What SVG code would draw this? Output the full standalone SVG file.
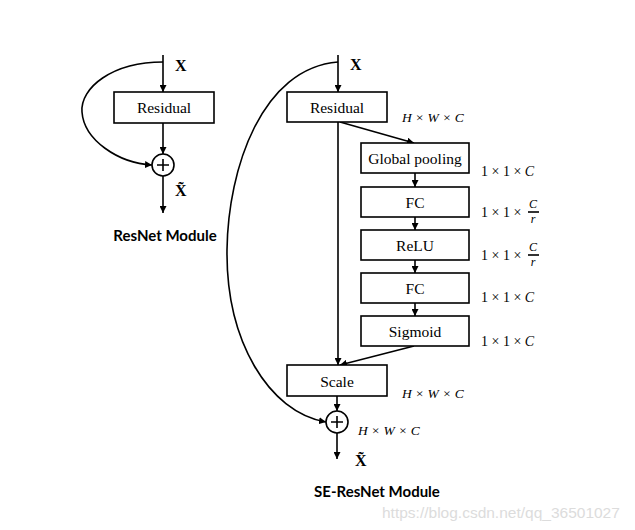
<svg xmlns="http://www.w3.org/2000/svg" width="635" height="530" viewBox="0 0 635 530">
<defs>
<marker id="ah" viewBox="0 0 10 10" refX="10" refY="5" markerWidth="7" markerHeight="7" markerUnits="userSpaceOnUse" orient="auto">
<path d="M0,0 L10,5 L0,10 z" fill="#000"/>
</marker>
<style>
.box{fill:#fff;stroke:#000;stroke-width:1.6}
.ln{fill:none;stroke:#000;stroke-width:1.6}
.arr{fill:none;stroke:#000;stroke-width:1.6;marker-end:url(#ah)}
.lbl{font-family:"Liberation Serif","Times New Roman",serif;font-size:15.5px;fill:#000;text-anchor:middle}
.bx{font-family:"Liberation Serif","Times New Roman",serif;font-size:16px;font-weight:bold;fill:#000}
.dim{font-family:"Liberation Serif","Times New Roman",serif;font-size:13.5px;font-style:italic;fill:#000}
.mth{font-family:"Liberation Serif","Times New Roman",serif;font-size:14px;fill:#000}
.frac{font-family:"Liberation Serif","Times New Roman",serif;font-size:12px;font-style:italic;fill:#000;text-anchor:middle}
.ttl{font-family:Lato,"Liberation Sans",sans-serif;font-size:15px;font-weight:bold;fill:#000;text-anchor:middle}
</style>
</defs>
<rect width="635" height="530" fill="#fff"/>

<g id="connectors">
<!-- left module -->
<line class="arr" x1="163" y1="55" x2="163" y2="92"/>
<line class="arr" x1="163" y1="123" x2="163" y2="154"/>
<line class="arr" x1="163" y1="176" x2="163" y2="213"/>
<path class="arr" d="M163,62 C112,62 80,88 82,112 C84,140 118,163 152,165"/>
<!-- right module -->
<line class="arr" x1="338" y1="55" x2="338" y2="92"/>
<line class="arr" x1="338" y1="122" x2="338" y2="365"/>
<line class="arr" x1="340" y1="122" x2="414" y2="143"/>
<line class="arr" x1="415" y1="173" x2="415" y2="187"/>
<line class="arr" x1="415" y1="217" x2="415" y2="230"/>
<line class="arr" x1="415" y1="260" x2="415" y2="273"/>
<line class="arr" x1="415" y1="303" x2="415" y2="316"/>
<line class="arr" x1="414" y1="346" x2="340" y2="365"/>
<line class="arr" x1="337" y1="396" x2="337" y2="411"/>
<line class="arr" x1="337" y1="433" x2="337" y2="459"/>
<path class="arr" d="M338,62 C262,68 228,168 227,250 C226,340 268,412 326,422"/>
</g>

<g id="resnet-x"><text class="bx" x="175" y="71">X</text></g>
<g id="resnet-residual">
<rect class="box" x="114" y="92" width="100" height="31"/>
<text class="lbl" x="164" y="113">Residual</text>
</g>
<g id="resnet-sum">
<circle class="box" cx="163" cy="165" r="11"/>
<path class="ln" d="M157,165 H169 M163,159 V171" stroke-width="1.2"/>
</g>
<g id="resnet-xt"><text class="bx" x="175" y="196">X̃</text></g>
<g id="resnet-title"><text class="ttl" x="165" y="241">ResNet Module</text></g>

<g id="se-x"><text class="bx" x="350" y="70">X</text></g>
<g id="se-residual">
<rect class="box" x="287" y="92" width="100" height="30"/>
<text class="lbl" x="337" y="113">Residual</text>
<text class="dim" x="402" y="122">H × W × C</text>
</g>
<g id="se-gp">
<rect class="box" x="361" y="143" width="108" height="30"/>
<text class="lbl" x="415" y="164">Global pooling</text>
<text class="mth" x="481" y="176">1 × 1 × <tspan font-style="italic">C</tspan></text>
</g>
<g id="se-fc1">
<rect class="box" x="361" y="187" width="108" height="30"/>
<text class="lbl" x="415" y="208">FC</text>
<text class="mth" x="481" y="217">1 × 1 ×</text>
<text class="frac" x="533" y="208">C</text>
<line class="ln" x1="528" y1="212" x2="539" y2="212" stroke-width="0.9"/>
<text class="frac" x="533" y="223">r</text>
</g>
<g id="se-relu">
<rect class="box" x="361" y="230" width="108" height="30"/>
<text class="lbl" x="415" y="251">ReLU</text>
<text class="mth" x="481" y="260">1 × 1 ×</text>
<text class="frac" x="533" y="251">C</text>
<line class="ln" x1="528" y1="255" x2="539" y2="255" stroke-width="0.9"/>
<text class="frac" x="533" y="266">r</text>
</g>
<g id="se-fc2">
<rect class="box" x="361" y="273" width="108" height="30"/>
<text class="lbl" x="415" y="294">FC</text>
<text class="mth" x="481" y="302">1 × 1 × <tspan font-style="italic">C</tspan></text>
</g>
<g id="se-sigmoid">
<rect class="box" x="361" y="316" width="108" height="30"/>
<text class="lbl" x="415" y="337">Sigmoid</text>
<text class="mth" x="481" y="346">1 × 1 × <tspan font-style="italic">C</tspan></text>
</g>
<g id="se-scale">
<rect class="box" x="287" y="365" width="100" height="31"/>
<text class="lbl" x="337" y="387">Scale</text>
<text class="dim" x="402" y="398">H × W × C</text>
</g>
<g id="se-sum">
<circle class="box" cx="337" cy="422" r="11"/>
<path class="ln" d="M331,422 H343 M337,416 V428" stroke-width="1.2"/>
<text class="dim" x="358" y="435">H × W × C</text>
</g>
<g id="se-xt"><text class="bx" x="355" y="466">X̃</text></g>
<g id="se-title"><text class="ttl" x="377" y="497">SE-ResNet Module</text></g>

<text x="382" y="518" font-family="'Liberation Sans',Arial,sans-serif" font-size="15.5px" fill="#dcdcdc">https://blog.csdn.net/qq_36501027</text>
</svg>
